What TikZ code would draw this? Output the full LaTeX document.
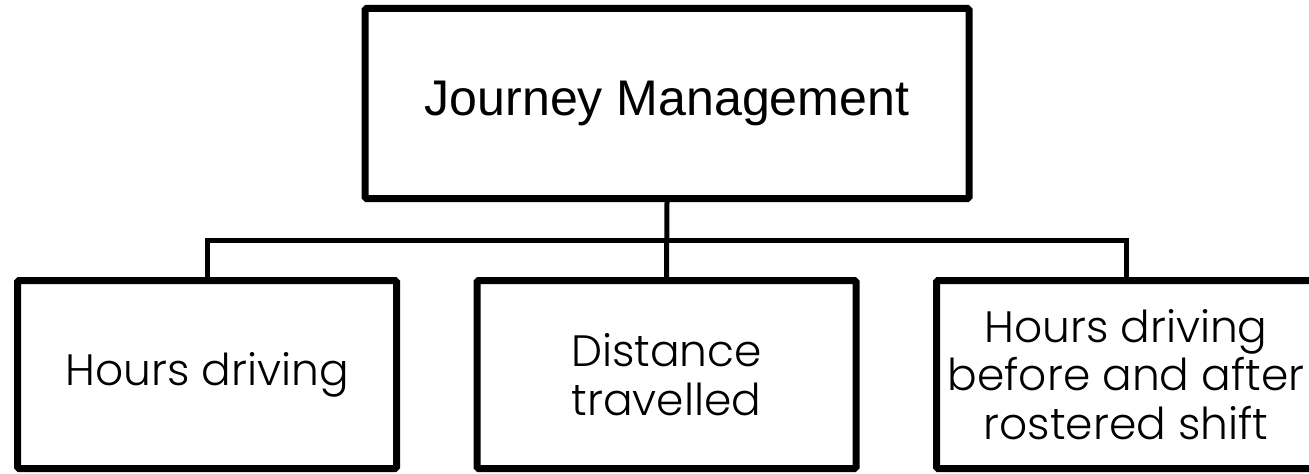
\documentclass[tikz,border=0pt]{standalone}
\usepackage{fontspec}
\setmainfont{Liberation Sans}
\newfontfamily\gothic{Poppins Light}

\tikzset{
  topbox/.style={draw, line width=0.14cm, rounded corners=0.03cm,
    minimum width=12.08cm, minimum height=3.8cm, inner sep=0pt,
    font=\fontsize{28.5}{32}\selectfont},
  subbox/.style={draw, line width=0.14cm, rounded corners=0.03cm,
    minimum width=7.58cm, minimum height=3.76cm, inner sep=0pt,
    align=center, font=\gothic\fontsize{25}{27.6}\selectfont},
  link/.style={line width=0.1cm}
}

\begin{document}
\begin{tikzpicture}
    \useasboundingbox (0,0) rectangle (26.18,9.46);
    % root
    \node[topbox] (jm) at (13.34,7.39) {Journey Management};
    % children
    \node[subbox] (hrs)   at (4.14,1.97)  {Hours driving};
    \node[subbox] (dist)  at (13.33,1.97) {Distance\\travelled};
    \node[subbox] (shift) at (22.52,1.97) {Hours driving\\before and after\\rostered shift};
    % connectors
    \coordinate (bus) at (13.33,4.66);
    \draw[link] (jm.south) -- (dist.north);
    \draw[link] (hrs.north) |- (bus) -| (shift.north);
\end{tikzpicture}
\end{document}
